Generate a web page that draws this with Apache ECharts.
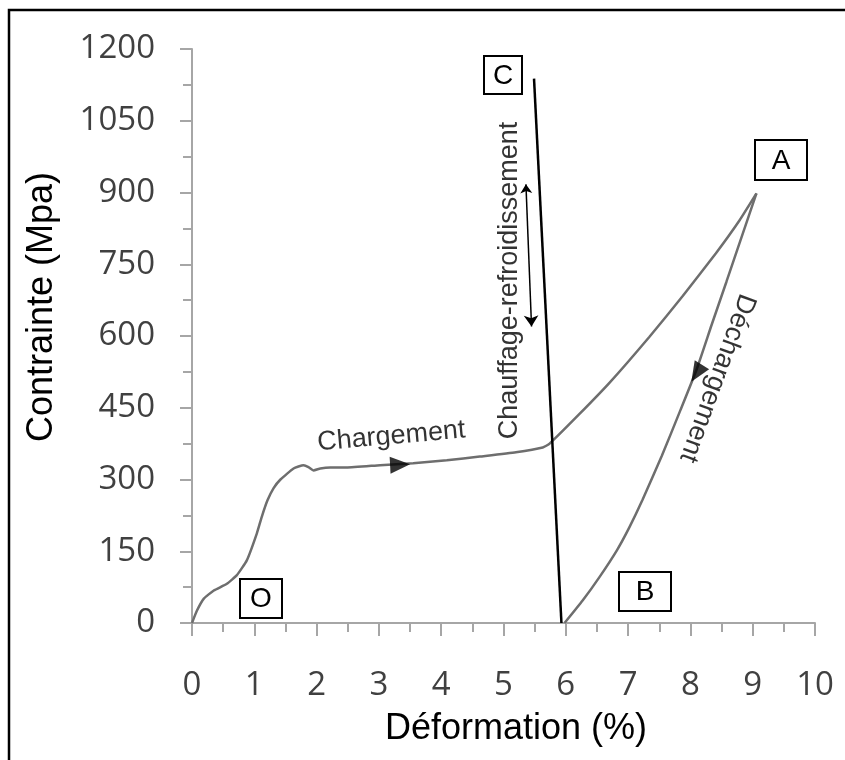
<!DOCTYPE html>
<html>
<head>
<meta charset="utf-8">
<script src="https://cdn.jsdelivr.net/npm/echarts@6/dist/echarts.min.js"></script>
<style>
  html, body { margin: 0; padding: 0; background: #fff; }
  #chart { width: 845px; height: 760px; }
</style>
</head>
<body>
<div id="chart"></div>
<script>
// Superelastic cycle: strain (%) vs stress (MPa)
const loadStrain = [0, 0.08, 0.19, 0.35, 0.56, 0.72, 0.88, 1.04, 1.12, 1.21, 1.31, 1.42, 1.63, 1.79, 1.87, 1.95, 2.06, 2.22, 2.48, 3.02, 3.55, 4.09, 4.62, 5.2, 5.63, 5.74, 6.22, 6.70, 7.34, 7.88, 8.41, 8.79, 9.06];
const loadStress = [0, 26, 51, 68, 82, 100, 131, 187, 222, 256, 282, 300, 323, 330, 326, 319, 323, 325, 325, 330, 334, 340, 348, 357, 367, 375, 437, 502, 598, 684, 773, 842, 898];

const unloadStrain = [9.06, 8.82, 8.58, 8.34, 8.10, 7.84, 7.54, 7.23, 7.02, 6.82, 6.54, 6.27, 5.98];
const unloadStress = [898, 806, 714, 623, 530, 445, 349, 257, 200, 152, 96, 47, 0];

// heating / cooling path between B and C
const thermalStrain = [5.93, 5.49];
const thermalStress = [0, 1138];

// double arrow beside the heating / cooling path
const thermalArrowStrain = [5.36, 5.45];
const thermalArrowStress = [917, 620];

// axis ticks
const strainTicks = [0, 10, 1];      // min, max, step
const stressTicks = [0, 1200, 150];  // min, max, step

// point labels
const pointNames = ['O', 'B', 'A', 'C'];
const pointStrain = [1.11, 7.27, 9.45, 4.99];
const pointStress = [52, 65, 967, 1145];

// direction arrows on the curve
const arrowStrain = [3.34, 8.10];
const arrowStress = [331, 522];

// curve captions
const captionText = ['Chargement', 'Chauffage-refroidissement', 'Déchargement'];
const captionStrain = [3.20, 5.09, 8.43];
const captionStress = [390, 716, 512];

const zip = (xs, ys) => xs.map((x, i) => [x, ys[i]]);

const axisGray = '#a6a6a6';
const tickFont = { fontFamily: 'Open Sans', fontSize: 33, color: '#404040', formatter: v => String(v) };

const boxSize = { O: [42, 39], B: [52, 39], A: [52, 40], C: [38, 38] };
const captionRotate = [5, 90, -110];
const arrowRotate = [-87, 148];

const chart = echarts.init(document.getElementById('chart'));

const baseGraphic = [
  {
    type: 'rect', silent: true, z: 100,
    shape: { x: 9, y: 10, width: 900, height: 900 },
    style: { fill: 'none', stroke: '#000', lineWidth: 2.5 }
  },
  {
    type: 'text', x: 42, y: 307, rotation: Math.PI / 2,
    style: {
      text: 'Contrainte (Mpa)', fontFamily: 'Liberation Sans', fontSize: 36,
      fill: '#000', textAlign: 'center', textVerticalAlign: 'middle'
    }
  },
  {
    type: 'text', x: 516, y: 729,
    style: {
      text: 'Déformation (%)', fontFamily: 'Liberation Sans', fontSize: 36,
      fill: '#000', textAlign: 'center', textVerticalAlign: 'middle'
    }
  }
];

chart.setOption({
  animation: false,
  backgroundColor: '#fff',
  grid: { left: 192, right: 30, top: 49, bottom: 137, containLabel: false },
  xAxis: {
    type: 'value',
    min: strainTicks[0], max: strainTicks[1], interval: strainTicks[2],
    axisLine: { show: true, onZero: false, lineStyle: { color: axisGray, width: 2 } },
    axisTick: { show: true, length: 13, lineStyle: { color: axisGray, width: 2 } },
    minorTick: { show: true, splitNumber: 2, length: 9, lineStyle: { color: axisGray, width: 2 } },
    axisLabel: Object.assign({ margin: 46 }, tickFont),
    splitLine: { show: false }
  },
  yAxis: {
    type: 'value',
    min: stressTicks[0], max: stressTicks[1], interval: stressTicks[2],
    axisLine: { show: true, onZero: false, lineStyle: { color: axisGray, width: 2 } },
    axisTick: { show: true, length: 12, lineStyle: { color: axisGray, width: 2 } },
    minorTick: { show: true, splitNumber: 2, length: 9, lineStyle: { color: axisGray, width: 2 } },
    axisLabel: Object.assign({ margin: 37 }, tickFont),
    splitLine: { show: false }
  },
  graphic: baseGraphic,
  series: [
    {
      name: 'Chargement', type: 'line', data: zip(loadStrain, loadStress),
      showSymbol: false, smooth: 0.15,
      lineStyle: { color: '#6e6e6e', width: 2.5 }, z: 2
    },
    {
      name: 'Déchargement', type: 'line', data: zip(unloadStrain, unloadStress),
      showSymbol: false, smooth: 0.15,
      lineStyle: { color: '#6e6e6e', width: 2.5 }, z: 2
    },
    {
      name: 'Chauffage-refroidissement', type: 'line', data: zip(thermalStrain, thermalStress),
      showSymbol: false, lineStyle: { color: '#000', width: 2.5 }, z: 3
    },
    {
      type: 'lines', coordinateSystem: 'cartesian2d', z: 4,
      data: [{ coords: zip(thermalArrowStrain, thermalArrowStress) }],
      symbol: ['arrow', 'arrow'], symbolSize: [9, 11],
      lineStyle: { color: '#000', width: 1.5, opacity: 1 }
    },
    {
      type: 'scatter', z: 5,
      data: arrowStrain.map((x, i) => ({
        value: [x, arrowStress[i]],
        symbolRotate: arrowRotate[i]
      })),
      symbol: 'triangle', symbolSize: [17, 20],
      itemStyle: { color: '#000' }
    },
    {
      type: 'scatter', z: 6, symbolSize: 0,
      data: captionText.map((t, i) => ({
        value: [captionStrain[i], captionStress[i]],
        name: t,
        label: { rotate: captionRotate[i] }
      })),
      label: {
        show: true, position: 'inside', formatter: '{b}',
        fontFamily: 'Liberation Sans', fontSize: 27, color: '#000',
        textBorderWidth: 0,
        align: 'center', verticalAlign: 'middle'
      }
    }
  ]
});

// boxed point letters, placed through the grid's own scales and snapped to whole pixels
const boxes = [];
pointNames.forEach((n, i) => {
  const [cx, cy] = chart.convertToPixel({ gridIndex: 0 }, [pointStrain[i], pointStress[i]]);
  const [w, h] = boxSize[n];
  const x0 = Math.round(cx - w / 2);
  const y0 = Math.round(cy - h / 2);
  boxes.push({
    type: 'rect', z: 50,
    shape: { x: x0, y: y0, width: w, height: h },
    style: { fill: '#fff', stroke: '#000', lineWidth: 2 }
  });
  boxes.push({
    type: 'text', z: 51, x: x0 + w / 2, y: y0 + h / 2 + 1,
    style: {
      text: n, fontFamily: 'Liberation Sans', fontSize: 28, fill: '#000',
      textAlign: 'center', textVerticalAlign: 'middle'
    }
  });
});
chart.setOption({ graphic: baseGraphic.concat(boxes) });
</script>
</body>
</html>
